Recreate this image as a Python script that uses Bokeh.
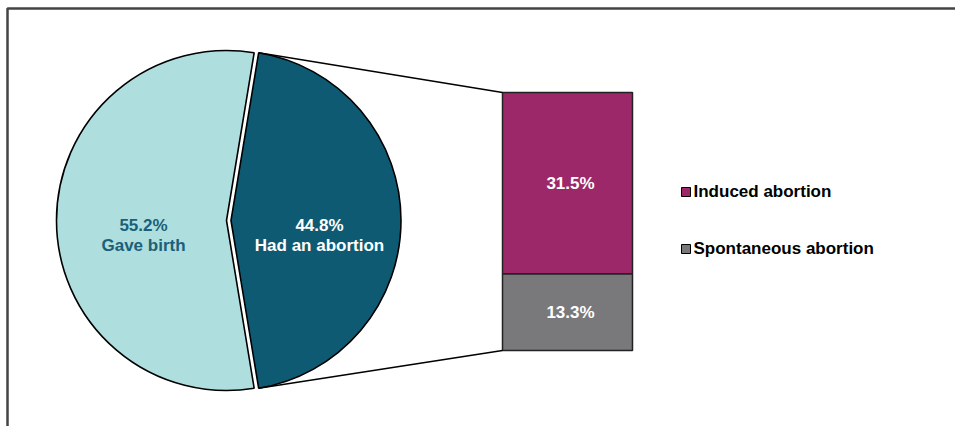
import numpy as np
from bokeh.plotting import figure
from bokeh.models import Range1d, ColumnDataSource
from bokeh.core.properties import value
from bokeh.embed import file_html
from bokeh.resources import INLINE

# ---- data ----
pie_labels = ["Gave birth", "Had an abortion"]
pie_values = [55.2, 44.8]
bar_labels = ["Induced abortion", "Spontaneous abortion"]
bar_values = [31.5, 13.3]

pie_colors = ["#AEDEDD", "#0F5A73"]
pie_text_colors = ["#1A6079", "#FFFFFF"]
bar_colors = ["#9C2869", "#79787A"]

W, H = 955, 426
FONT = value("Liberation Sans")

p = figure(width=W, height=H, output_backend="svg", toolbar_location=None,
           x_range=Range1d(0, W), y_range=Range1d(0, H),
           x_axis_location=None, y_axis_location=None, min_border=0)
p.grid.visible = False
p.outline_line_color = None
p.background_fill_color = "white"

def sy(y):  # pixel-from-top to data (y up)
    return H - y

# frame
p.quad(left=[7], right=[W + 10], top=[sy(8)], bottom=[-10],
       fill_color=None, line_color="#444444", line_width=2.5)

# ---- pie ----
total = sum(pie_values)
r = 170
cy = sy(220)
dark_span = pie_values[1] / total * 2 * np.pi
dark_start, dark_end = -dark_span / 2, dark_span / 2
light_start, light_end = dark_end, 2 * np.pi - dark_span / 2
centers_x = [226.0, 230.5]
pie_src = ColumnDataSource(dict(
    x=centers_x, y=[cy, cy],
    start=[light_start, dark_start], end=[light_end, dark_end],
    color=pie_colors))
p.wedge(x="x", y="y", radius=r, start_angle="start", end_angle="end",
        direction="anticlock", fill_color="color", line_color="black",
        line_width=1.6, source=pie_src)

# pie labels
pie_lx = [143, 319]
p.text(x=pie_lx, y=[sy(225)] * 2, text=[f"{v}%" for v in pie_values],
       text_color=pie_text_colors, text_font=FONT, text_font_style="bold",
       text_font_size="17px", text_align="center", text_baseline="middle")
p.text(x=pie_lx, y=[sy(245)] * 2, text=pie_labels,
       text_color=pie_text_colors, text_font=FONT, text_font_style="bold",
       text_font_size="17px", text_align="center", text_baseline="middle")

# ---- stacked bar on its own range ----
bar_bottom_px, bar_top_px = 350, 92
bar_total = sum(bar_values)
scale = (bar_bottom_px - bar_top_px) / bar_total
start = -(H - bar_bottom_px) / scale
p.extra_y_ranges = {"bar": Range1d(start, start + H / scale)}
bar_left, bar_right = 502, 632
cum = np.cumsum([0] + bar_values[::-1])  # bottom-up: spontaneous, induced
bottoms = list(cum[:-1][::-1])
tops = list(cum[1:][::-1])
bar_src = ColumnDataSource(dict(x=[(bar_left + bar_right) / 2] * 2,
                                bottom=bottoms, top=tops, color=bar_colors,
                                mid=[(b + t) / 2 for b, t in zip(bottoms, tops)],
                                lab=[f"{v}%" for v in bar_values]))
p.vbar(x="x", bottom="bottom", top="top", width=bar_right - bar_left,
       fill_color="color", line_color="#222222", line_width=1.5,
       y_range_name="bar", source=bar_src)
p.text(x="x", y="mid", text="lab", source=bar_src, y_range_name="bar",
       x_offset=3, text_color="white", text_font=FONT, text_font_style="bold",
       text_font_size="17px", text_align="center", text_baseline="middle")

# connector lines from exploded slice edge to bar corners
def bar_y(v):
    return (v - start) * scale
x0 = centers_x[1] + r * np.cos(dark_end)
y0t = cy + r * np.sin(dark_end)
y0b = cy + r * np.sin(dark_start)
p.segment(x0=[x0, x0], y0=[y0t, y0b], x1=[bar_left, bar_left],
          y1=[bar_y(bar_total), bar_y(0)], line_color="black", line_width=1.4)

# legend
leg_y = [sy(191.5), sy(248.5)]
p.scatter(x=[685.5] * 2, y=leg_y, marker="square", size=9,
          fill_color=bar_colors, line_color="black", line_width=1)
p.text(x=[693] * 2, y=[sy(190.5), sy(247.5)], text=bar_labels,
       text_color="black", text_font=FONT, text_font_style="bold",
       text_font_size="17px", text_align="left", text_baseline="middle")

open("out.html", "w").write(file_html(p, INLINE))
